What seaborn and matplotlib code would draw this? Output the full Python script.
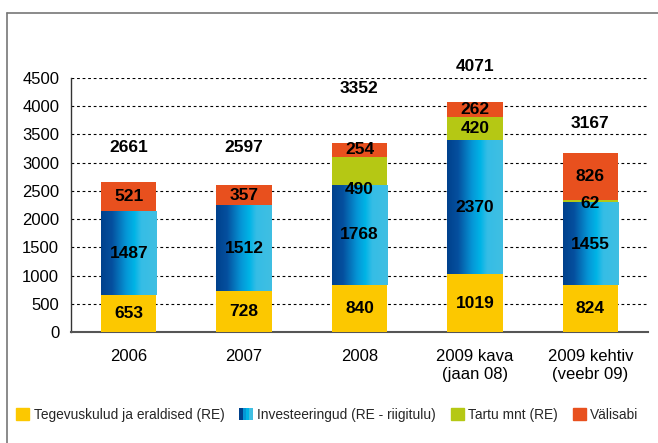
import numpy as np
import matplotlib
matplotlib.use('Agg')
import matplotlib.pyplot as plt
import seaborn as sns
from matplotlib.colors import LinearSegmentedColormap
from matplotlib.patches import Rectangle
from matplotlib.legend_handler import HandlerBase
from matplotlib.lines import Line2D

# ---------------- data ----------------
years = ['2006', '2007', '2008', '2009 kava\n(jaan 08)', '2009 kehtiv\n(veebr 09)']
tegevuskulud = [653, 728, 840, 1019, 824]
investeeringud = [1487, 1512, 1768, 2370, 1455]
tartu_mnt = [0, 0, 490, 420, 62]
valisabi = [521, 357, 254, 262, 826]
totals = [2661, 2597, 3352, 4071, 3167]
series_names = ['Tegevuskulud ja eraldised (RE)', 'Investeeringud (RE - riigitulu)',
                'Tartu mnt (RE)', 'Välisabi']

# ---------------- style ----------------
YELLOW = '#fcc800'
GREEN = '#b5c814'
ORANGE = '#e8501e'
blue_cmap = LinearSegmentedColormap.from_list(
    'invest', [(0, '#00418c'), (0.2, '#05509f'), (0.45, '#0596d6'),
               (0.6, '#00b4e6'), (0.72, '#35bde6'), (1, '#40bfe2')])
BAR_W = 0.48
# vertical nudges for labels (data units), matching the original placement
total_offset = [600, 680, 970, 630, 520]
label_nudge = {(2, 2): -330, (4, 2): -40}

sns.set_style('white')
plt.rcParams['font.family'] = ['Liberation Sans', 'DejaVu Sans']

fig = plt.figure(figsize=(6.58, 4.43), dpi=100)
ax = fig.add_axes([71 / 658, 1 - 332 / 443, 577 / 658, 254 / 443])

stack = [tegevuskulud, investeeringud, tartu_mnt, valisabi]
colors = [YELLOW, '#0596d6', GREEN, ORANGE]
bottom = np.zeros(len(years))
for vals, col in zip(stack, colors):
    sns.barplot(x=years, y=vals, bottom=bottom, color=col, width=BAR_W,
                saturation=1, linewidth=0, ax=ax, zorder=3)
    bottom += np.array(vals)

# gradient fill on the investment bars
grad = np.linspace(0, 1, 256).reshape(1, -1)
for patch in ax.containers[1]:
    x0, y0 = patch.get_x(), patch.get_y()
    w, h = patch.get_width(), patch.get_height()
    ax.imshow(grad, cmap=blue_cmap, aspect='auto', extent=(x0, x0 + w, y0, y0 + h),
              zorder=4)

# segment labels
bottom = np.zeros(len(years))
for s, vals in enumerate(stack):
    for i, v in enumerate(vals):
        if v > 0:
            y = bottom[i] + v / 2 + label_nudge.get((i, s), 0)
            ax.text(i, y, str(v), ha='center', va='center', fontsize=12.5,
                    fontweight='bold', color='black', zorder=6)
    bottom += np.array(vals)

for i, t in enumerate(totals):
    ax.text(i, t + total_offset[i], str(t), ha='center', va='center', fontsize=12.5,
            fontweight='bold', color='black', zorder=6, clip_on=False)

ax.set_xlim(-0.5, 4.5)
ax.set_ylim(0, 4500)
ax.set_yticks(np.arange(0, 4501, 500))
ax.yaxis.grid(True, color='black', linestyle=(0, (2.5, 2.5)), linewidth=0.8)
ax.set_axisbelow(True)
ax.set_xlabel('')
ax.set_ylabel('')

for side in ['top', 'right']:
    ax.spines[side].set_visible(False)
ax.spines['left'].set_color('#333333')
ax.spines['left'].set_linewidth(1)
ax.spines['bottom'].set_color('#555555')
ax.spines['bottom'].set_linewidth(1.5)

ax.set_xticks(np.arange(-0.5, 5, 1), minor=True)
ax.tick_params(axis='x', which='major', length=0, pad=12, labelsize=12, labelcolor='black')
ax.tick_params(axis='x', which='minor', length=5, direction='out', color='#333333', width=1)
ax.tick_params(axis='y', length=7, direction='inout', color='#333333', width=1,
               labelsize=12, labelcolor='black', pad=5)
for lab in ax.get_xticklabels():
    lab.set_linespacing(1.3)


# legend with a gradient swatch for the investment series
class GradientHandler(HandlerBase):
    def create_artists(self, legend, orig_handle, xdescent, ydescent, width, height,
                       fontsize, trans):
        cols = ['#00418c', '#0596d6', '#00b4e6', '#40bfe2']
        n = len(cols)
        return [Rectangle((-xdescent + k * width / n, -ydescent), width / n, height,
                          facecolor=c, edgecolor='none', transform=trans)
                for k, c in enumerate(cols)]


handles = [Rectangle((0, 0), 1, 1, color=YELLOW), Rectangle((0, 0), 1, 1, color='#0596d6'),
           Rectangle((0, 0), 1, 1, color=GREEN), Rectangle((0, 0), 1, 1, color=ORANGE)]
leg = fig.legend(handles, series_names, loc='center left',
                 bbox_to_anchor=(4 / 658, 1 - 415 / 443),
                 ncol=4, frameon=False, fontsize=9.9, handlelength=0.95,
                 handleheight=0.95, handletextpad=0.35, columnspacing=1.05,
                 handler_map={handles[1]: GradientHandler()})

# outer frame of the original slide
fig.add_artist(Line2D([6.5 / 658, 1], [1 - 12.5 / 443] * 2, color='#777777', lw=1.2))
fig.add_artist(Line2D([6.5 / 658] * 2, [0, 1 - 12.5 / 443], color='#777777', lw=1.2))

fig.savefig('out.png', dpi=100)
